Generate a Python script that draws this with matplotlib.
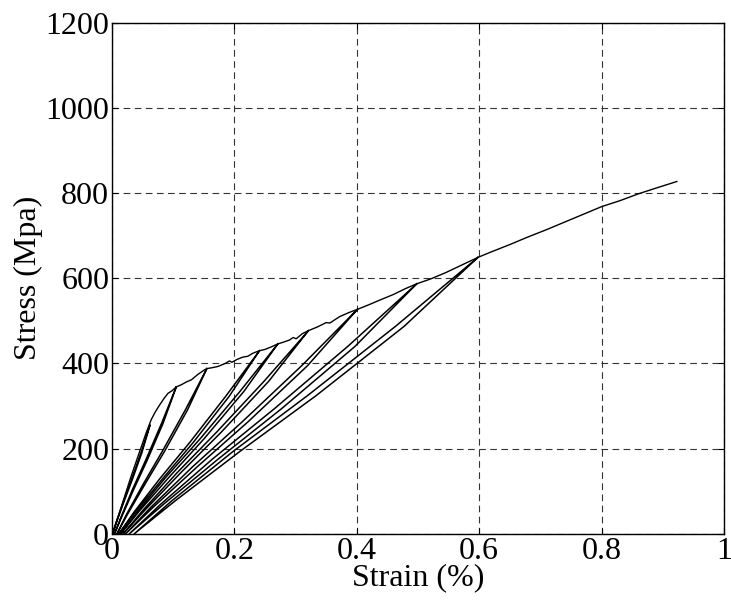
import matplotlib

matplotlib.use("Agg")
import matplotlib.pyplot as plt

# envelope (monotonic loading): strain (%), stress (MPa)
env_strain = [0.0, 0.01, 0.02, 0.03, 0.04, 0.048, 0.056, 0.064, 0.071, 0.078, 0.085,
              0.0915, 0.098, 0.105, 0.113, 0.122, 0.13, 0.14, 0.151, 0.155, 0.163,
              0.173, 0.185, 0.192, 0.196, 0.205, 0.214, 0.222, 0.23, 0.241, 0.25,
              0.262, 0.271, 0.28, 0.29, 0.296, 0.301, 0.311, 0.321, 0.336, 0.35,
              0.356, 0.372, 0.388, 0.401, 0.42, 0.438, 0.46, 0.48, 0.498, 0.52,
              0.545, 0.57, 0.598, 0.62, 0.65, 0.68, 0.71, 0.74, 0.77, 0.8, 0.83,
              0.86, 0.89, 0.923]
env_stress = [0, 40, 85, 130, 172, 205, 238, 268, 287, 303, 318,
              330, 336, 345, 350, 357, 362, 374, 385, 388, 390,
              393, 400, 406, 403, 410, 415, 417, 424, 430, 433,
              440, 446, 450, 455, 461, 458, 470, 477, 486, 496,
              495, 510, 520, 527, 538, 549, 562, 576, 587, 598,
              613, 630, 649, 662, 679, 697, 714, 732, 750, 768, 782,
              798, 812, 827]

# unloading / reloading loops: peak -> residual -> peak
loop0_strain = [0.062, 0.0489, 0.0333, 0.0199, 0.0083, 0.001, 0.0077, 0.0187, 0.0318, 0.0474, 0.062]
loop0_stress = [255, 191, 128, 77, 31, 0, 31, 77, 128, 191, 255]
loop1_strain = [0.105, 0.0833, 0.0575, 0.0353, 0.0161, 0.004, 0.0151, 0.0333, 0.055, 0.0808, 0.105]
loop1_stress = [345, 259, 173, 104, 41, 0, 41, 104, 173, 259, 345]
loop2_strain = [0.155, 0.1234, 0.0859, 0.0536, 0.0256, 0.008, 0.0241, 0.0506, 0.0822, 0.1198, 0.155]
loop2_stress = [388, 291, 194, 116, 47, 0, 47, 116, 194, 291, 388]
loop3_strain = [0.241, 0.1915, 0.1329, 0.0823, 0.0386, 0.011, 0.0363, 0.0777, 0.1272, 0.1858, 0.241]
loop3_stress = [430, 323, 215, 129, 52, 0, 52, 129, 215, 323, 430]
loop4_strain = [0.271, 0.2158, 0.1502, 0.0937, 0.0448, 0.014, 0.0422, 0.0885, 0.1438, 0.2094, 0.271]
loop4_stress = [446, 335, 223, 134, 54, 0, 54, 134, 223, 335, 446]
loop5_strain = [0.321, 0.2559, 0.1786, 0.1119, 0.0544, 0.018, 0.0514, 0.1059, 0.171, 0.2483, 0.321]
loop5_stress = [477, 358, 239, 143, 57, 0, 57, 143, 239, 358, 477]
loop6_strain = [0.401, 0.3196, 0.2229, 0.1395, 0.0675, 0.022, 0.0637, 0.1319, 0.2134, 0.3101, 0.401]
loop6_stress = [527, 395, 264, 158, 63, 0, 63, 158, 264, 395, 527]
loop7_strain = [0.498, 0.397, 0.2771, 0.1737, 0.0844, 0.028, 0.0797, 0.1643, 0.2654, 0.3852, 0.498]
loop7_stress = [587, 440, 294, 176, 70, 0, 70, 176, 294, 440, 587]
loop8_strain = [0.598, 0.4772, 0.3339, 0.2102, 0.1034, 0.036, 0.0978, 0.199, 0.3198, 0.4631, 0.598]
loop8_stress = [649, 487, 325, 195, 78, 0, 78, 195, 325, 487, 649]

loops = [
    (loop0_strain, loop0_stress),
    (loop1_strain, loop1_stress),
    (loop2_strain, loop2_stress),
    (loop3_strain, loop3_stress),
    (loop4_strain, loop4_stress),
    (loop5_strain, loop5_stress),
    (loop6_strain, loop6_stress),
    (loop7_strain, loop7_stress),
    (loop8_strain, loop8_stress),
]

x_ticks = [0, 0.2, 0.4, 0.6, 0.8, 1]
x_labels = ["0", "0.2", "0.4", "0.6", "0.8", "1"]
y_ticks = [0, 200, 400, 600, 800, 1000, 1200]

plt.rcParams["font.family"] = ["Liberation Serif", "DejaVu Serif"]

fig = plt.figure(figsize=(7.31, 6.10), dpi=100)
ax = fig.add_axes([0.1532, 0.1246, 0.8372, 0.8385])

ax.plot(env_strain, env_stress, color="black", lw=1.0)
for xs, ys in loops:
    ax.plot(xs, ys, color="black", lw=1.1)

ax.set_xlim(0, 1)
ax.set_ylim(0, 1200)
ax.set_xticks(x_ticks)
ax.set_xticklabels(x_labels)
ax.set_yticks(y_ticks)
ax.tick_params(direction="in", length=4, width=0.8, labelsize=23, pad=2,
               top=True, right=True)
for sp in ax.spines.values():
    sp.set_linewidth(1.0)

ax.grid(True, color="#333333", linestyle=(0, (6, 4)), linewidth=0.8)

ax.set_xlabel("Strain (%)", fontsize=23, labelpad=-2)
ax.set_ylabel("Stress (Mpa)", fontsize=23, labelpad=2)

fig.savefig("out.png", dpi=100)
